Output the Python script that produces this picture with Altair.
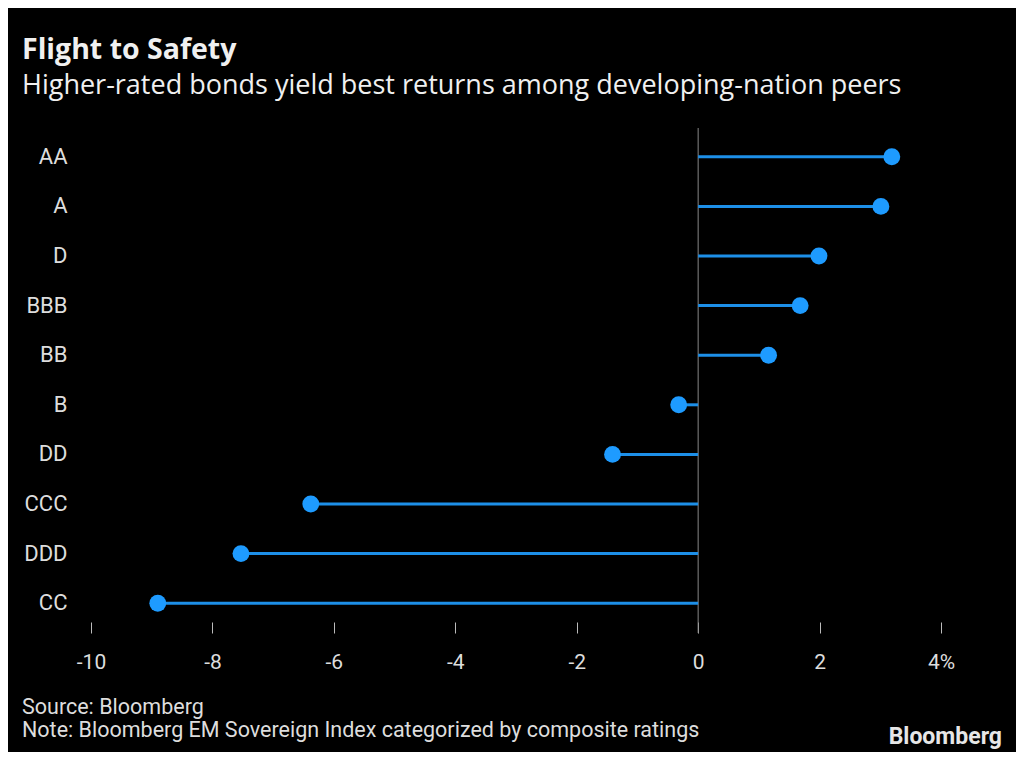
import altair as alt
import pandas as pd

ratings = ["AA", "A", "D", "BBB", "BB", "B", "DD", "CCC", "DDD", "CC"]
returns = [3.19, 3.01, 1.99, 1.68, 1.16, -0.32, -1.41, -6.38, -7.53, -8.90]
x_ticks = [-10, -8, -6, -4, -2, 0, 2, 4]

title_text = "Flight to Safety"
subtitle_text = "Higher-rated bonds yield best returns among developing-nation peers"
source_line = ["Source: Bloomberg"]
note_line = ["Note: Bloomberg EM Sovereign Index categorized by composite ratings"]
logo_text = ["Bloomberg"]

TFONT = "Open Sans"
FONT = "Roboto"
W, H = 850, 496

df = pd.DataFrame({"rating": ratings, "ret": returns, "zero": [0] * len(ratings)})

xscale = alt.Scale(domain=[-10, 4], nice=False, zero=False)
yenc = alt.Y("rating:N", sort=ratings, scale=alt.Scale(paddingInner=0, paddingOuter=0),
             axis=alt.Axis(title=None, ticks=False, domain=False, labelPadding=24,
                           labelFontSize=22, labelColor="#dddddd", labelFont=FONT))

xaxis = alt.Axis(title=None, values=x_ticks, grid=False, domain=False, tickSize=11,
                 offset=-6, tickColor="#bbbbbb", tickWidth=1, labelPadding=18,
                 labelFlush=False,
                 labelFontSize=21, labelColor="#dddddd", labelFont=FONT,
                 labelExpr="datum.value == 4 ? '4%' : toString(datum.value)")

base = alt.Chart(df)

zero_line = alt.Chart(pd.DataFrame({"z": [0]})).mark_rule(color="#888888", strokeWidth=1).encode(
    x=alt.X("z:Q", scale=xscale, axis=xaxis),
    y=alt.value(-4), y2=alt.value(H + 5))

stems = base.mark_rule(color="#1d8fe8", strokeWidth=3).encode(
    x=alt.X("zero:Q", scale=xscale), x2="ret:Q", y=yenc)

dots = base.mark_circle(color="#1e9bff", opacity=1, size=285).encode(
    x=alt.X("ret:Q", scale=xscale), y=yenc)

source = alt.Chart(pd.DataFrame({"t": source_line})).mark_text(
    align="left", baseline="middle", font=FONT, fontSize=21.5, color="#dddddd").encode(
    text="t:N", x=alt.value(-69), y=alt.value(H + 80))

note = alt.Chart(pd.DataFrame({"t": note_line})).mark_text(
    align="left", baseline="middle", font=FONT, fontSize=21.5, color="#dddddd").encode(
    text="t:N", x=alt.value(-69), y=alt.value(H + 103))

logo = alt.Chart(pd.DataFrame({"t": logo_text})).mark_text(
    align="right", baseline="middle", font="Roboto", fontWeight="bold", fontSize=23,
    color="#e6e6e6").encode(
    text="t:N", x=alt.value(W + 61), y=alt.value(H + 109))

chart = alt.layer(zero_line, stems, dots, source, note, logo).properties(
    width=W, height=H,
    autosize=alt.AutoSizeParams(type="none"),
    padding={"left": 83, "top": 124, "right": 75, "bottom": 124},
    background="#000000",
    title=alt.TitleParams(text=title_text, subtitle=subtitle_text, anchor="start",
                          frame="group", dx=-69, offset=29, font=TFONT, fontSize=28.5,
                          fontWeight="bold", color="#f0f0f0", subtitleFont=TFONT,
                          subtitleFontSize=27, subtitleColor="#f0f0f0",
                          subtitlePadding=8),
).configure_view(stroke=None)

chart.save("out.html", embed_options={"renderer": "svg", "actions": False})
